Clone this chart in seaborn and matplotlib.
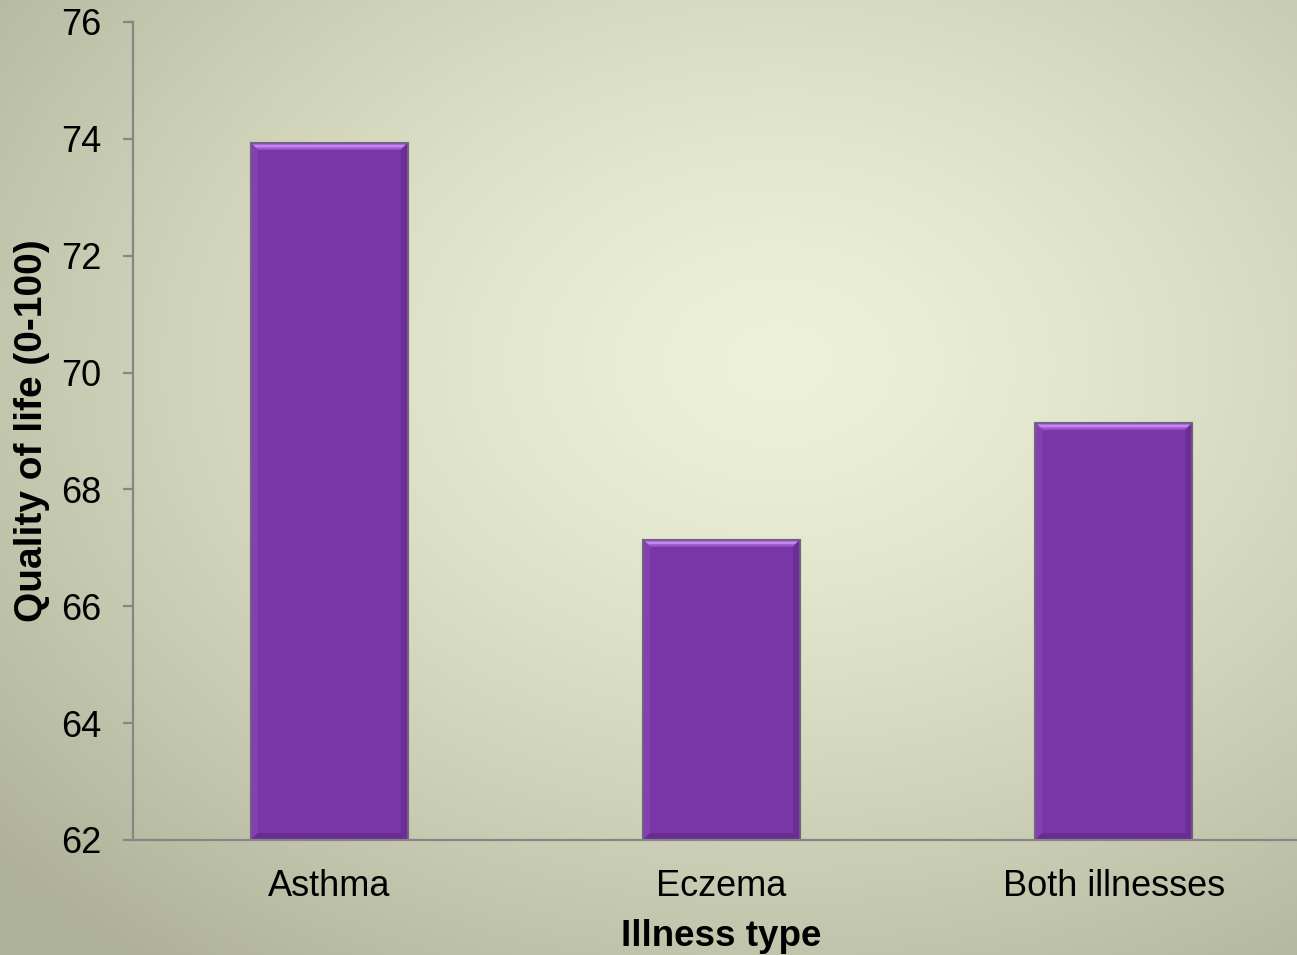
import numpy as np
import pandas as pd
import matplotlib
matplotlib.use("Agg")
import matplotlib.pyplot as plt
from matplotlib.patches import Polygon
import seaborn as sns

# ---- data ----
categories = ["Asthma", "Eczema", "Both illnesses"]
values = [73.93, 67.14, 69.14]
y_ticks = [62, 64, 66, 68, 70, 72, 74, 76]
x_label = "Illness type"
y_label = "Quality of life (0-100)"

df = pd.DataFrame({"illness": categories, "qol": values})

sns.set_theme(style="white")
plt.rcParams["font.family"] = ["Liberation Sans", "DejaVu Sans"]

W, H, DPI = 1297, 955, 100
fig = plt.figure(figsize=(W / DPI, H / DPI), dpi=DPI)

# ---- radial gradient background ----
bg = fig.add_axes([0, 0, 1, 1], zorder=0)
yy, xx = np.mgrid[0:H, 0:W]
cx, cy = 0.60 * W, 0.38 * H
r = np.sqrt(((xx - cx) / W) ** 2 + ((yy - cy) / H) ** 2) / 0.80
r = np.clip(r, 0, 1)
c_in = np.array([237, 241, 215]) / 255.0
c_out = np.array([174, 177, 152]) / 255.0
t = r[..., None] ** 1.4
img = c_in * (1 - t) + c_out * t
bg.imshow(img, aspect="auto", extent=[0, 1, 0, 1], origin="upper")
bg.set_axis_off()

# ---- main axes ----
left = 133 / W
bottom = (H - 840) / H
width = (1310 - 133) / W
height = 818 / H
ax = fig.add_axes([left, bottom, width, height], zorder=1)
ax.patch.set_alpha(0)

sns.barplot(data=df, x="illness", y="qol", color="#7936a6", width=0.40,
            saturation=1, edgecolor="#8a8a7c", linewidth=1.6, ax=ax, zorder=2)

ax.set_ylim(62, 76)
ax.set_xlim(-0.5, 2.5)
ax.set_yticks(y_ticks)

# ---- bevel effect on bars, derived from bar geometry ----
fig.canvas.draw()
ylo = ax.get_ylim()[0]
inv = ax.transData.inverted()
p0 = inv.transform((0, 0))
p1 = inv.transform((1, 1))
dx_px = p1[0] - p0[0]
dy_px = p1[1] - p0[1]
bev_x = 7 * dx_px
bev_y = 7 * dy_px
for p in list(ax.patches):
    x0 = p.get_x()
    x1 = x0 + p.get_width()
    y0 = max(p.get_y(), ylo)
    y1 = p.get_y() + p.get_height()
    # top
    ax.add_patch(Polygon([(x0, y1), (x1, y1), (x1 - bev_x, y1 - bev_y), (x0 + bev_x, y1 - bev_y)],
                         closed=True, facecolor="#9a56cc", edgecolor="none", zorder=3))
    ax.add_patch(Polygon([(x0 + 0.3 * bev_x, y1 - 0.25 * bev_y), (x1 - 0.3 * bev_x, y1 - 0.25 * bev_y),
                          (x1 - 0.7 * bev_x, y1 - 0.65 * bev_y), (x0 + 0.7 * bev_x, y1 - 0.65 * bev_y)],
                         closed=True, facecolor="#c585f0", edgecolor="none", zorder=3))
    # left
    ax.add_patch(Polygon([(x0, y1), (x0 + bev_x, y1 - bev_y), (x0 + bev_x, y0 + bev_y), (x0, y0)],
                         closed=True, facecolor="#8340b2", edgecolor="none", zorder=3))
    # right
    ax.add_patch(Polygon([(x1, y1), (x1 - bev_x, y1 - bev_y), (x1 - bev_x, y0 + bev_y), (x1, y0)],
                         closed=True, facecolor="#6c2d96", edgecolor="none", zorder=3))
    # bottom
    ax.add_patch(Polygon([(x0, y0), (x1, y0), (x1 - bev_x, y0 + bev_y), (x0 + bev_x, y0 + bev_y)],
                         closed=True, facecolor="#6a2c92", edgecolor="none", zorder=3))
    # outline on top
    ax.add_patch(Polygon([(x0, y0), (x0, y1), (x1, y1), (x1, y0)], closed=True,
                         facecolor="none", edgecolor="#6e5f80", linewidth=1.2, zorder=4))

# ---- styling ----
spine_c = "#868686"
for s in ["top", "right"]:
    ax.spines[s].set_visible(False)
for s in ["left", "bottom"]:
    ax.spines[s].set_color(spine_c)
    ax.spines[s].set_linewidth(1.6)
    ax.spines[s].set_zorder(5)

ax.tick_params(axis="y", which="both", left=True, length=7, width=1.6, color=spine_c,
               labelsize=26, labelcolor="black", pad=16)
ax.tick_params(axis="x", which="both", bottom=False, length=0, labelsize=26,
               labelcolor="black", pad=21)

ax.set_xlabel(x_label, fontsize=26.5, fontweight="bold", color="black", labelpad=11)
ax.set_ylabel(y_label, fontsize=28, fontweight="bold", color="black", labelpad=8)
ax.grid(False)

fig.savefig("out.png", dpi=DPI)
